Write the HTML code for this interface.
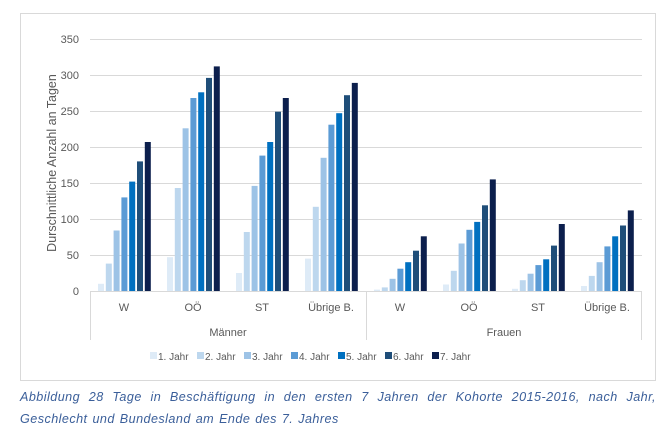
<!DOCTYPE html>
<html><head><meta charset="utf-8"><style>
body{margin:0;background:#fff;width:672px;height:438px;overflow:hidden;font-family:"Liberation Sans",sans-serif}
.cap{position:absolute;left:20px;top:386px;width:636px;font-style:italic;color:#3b5f9a;font-size:12.6px;letter-spacing:0.45px;word-spacing:1px;line-height:22px;text-align:justify;text-align-last:left}
</style></head><body>
<svg width="672" height="438" style="position:absolute;left:0;top:0" font-family="Liberation Sans, sans-serif">
<rect x="20.5" y="13.5" width="635" height="367" fill="#fff" stroke="#d9d9d9"/>
<g stroke="#d9d9d9" stroke-width="1">
<line x1="90" x2="642" y1="39.5" y2="39.5"/><line x1="90" x2="642" y1="75.5" y2="75.5"/>
<line x1="90" x2="642" y1="111.5" y2="111.5"/><line x1="90" x2="642" y1="147.5" y2="147.5"/>
<line x1="90" x2="642" y1="183.5" y2="183.5"/><line x1="90" x2="642" y1="219.5" y2="219.5"/>
<line x1="90" x2="642" y1="255.5" y2="255.5"/><line x1="90" x2="642" y1="291.5" y2="291.5"/>
<line x1="90.5" x2="90.5" y1="291" y2="340"/><line x1="366.5" x2="366.5" y1="291" y2="340"/><line x1="641.5" x2="641.5" y1="291" y2="340"/>
</g>
<g fill="#595959" font-size="11" text-anchor="end">
<text x="79" y="43">350</text><text x="79" y="79">300</text><text x="79" y="115">250</text><text x="79" y="151">200</text>
<text x="79" y="187">150</text><text x="79" y="223">100</text><text x="79" y="259">50</text><text x="79" y="295">0</text>
</g>
<text transform="translate(56,163) rotate(-90)" fill="#595959" font-size="12.5" text-anchor="middle">Durschnittliche Anzahl an Tagen</text>
<g fill="#595959" font-size="11" text-anchor="middle">
<text x="124" y="311">W</text><text x="193" y="311">OÖ</text><text x="262" y="311">ST</text><text x="331" y="311">Übrige B.</text>
<text x="400" y="311">W</text><text x="469" y="311">OÖ</text><text x="538" y="311">ST</text><text x="607" y="311">Übrige B.</text>
<text x="228" y="336">Männer</text><text x="504" y="336">Frauen</text>
</g>
<g id="bars"></g>
<g font-size="10" fill="#595959">
<rect x="150" y="352" width="7" height="7" fill="#deebf7"/><text x="158" y="360">1. Jahr</text>
<rect x="197" y="352" width="7" height="7" fill="#bdd7ee"/><text x="205" y="360">2. Jahr</text>
<rect x="244" y="352" width="7" height="7" fill="#9dc3e6"/><text x="252" y="360">3. Jahr</text>
<rect x="291" y="352" width="7" height="7" fill="#5b9bd5"/><text x="299" y="360">4. Jahr</text>
<rect x="338" y="352" width="7" height="7" fill="#0070c0"/><text x="346" y="360">5. Jahr</text>
<rect x="385" y="352" width="7" height="7" fill="#1f4e79"/><text x="393" y="360">6. Jahr</text>
<rect x="432" y="352" width="7" height="7" fill="#0c1f4d"/><text x="440" y="360">7. Jahr</text>
</g>
</svg>
<div class="cap">Abbildung 28 Tage in Beschäftigung in den ersten 7 Jahren der Kohorte 2015-2016, nach Jahr, Geschlecht und Bundesland am Ende des 7. Jahres</div>
<script>
var d=[[10,38,84,130,152,180,207],[47,143,226,268,276,296,312],[25,82,146,188,207,249,268],[45,117,185,231,247,272,289],
[2,5,17,31,40,56,76],[9,28,66,85,96,119,155],[3,15,24,36,44,63,93],[7,21,40,62,76,91,112]];
var c=["#deebf7","#bdd7ee","#9dc3e6","#5b9bd5","#0070c0","#1f4e79","#0c1f4d"];
var s="";
for(var g=0;g<8;g++)for(var i=0;i<7;i++){var h=d[g][i]*0.72,x=90+g*69+8+i*7.8;
s+='<rect x="'+x.toFixed(1)+'" y="'+(291-h).toFixed(1)+'" width="6" height="'+h.toFixed(1)+'" fill="'+c[i]+'"/>';}
document.getElementById("bars").innerHTML=s;
</script>
</body></html>
